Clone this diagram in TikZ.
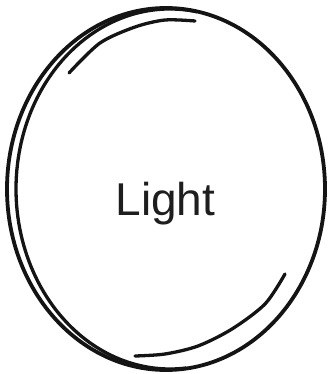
\documentclass[tikz,border=0pt]{standalone}
\usepackage{fontspec}
\newfontfamily\ltsans{Liberation Sans}
\definecolor{ltink}{HTML}{141414}
\definecolor{lttext}{HTML}{1E1E1E}
\tikzset{
  lt outline/.style={draw=ltink, line width=3.8pt},
  lt sketch/.style={draw=ltink, line width=3.3pt, line cap=round},
  lt label/.style={font=\ltsans\fontsize{46}{50}\selectfont, text=lttext, inner sep=0pt}
}

\begin{document}
\begin{tikzpicture}[x=1pt, y=-1pt]
  \useasboundingbox (0,0) rectangle (330,374);
  % main rim
  \draw[lt outline] (166,189) ellipse [x radius=159, y radius=181];
  % second pass of the pen, left side
  \draw[lt sketch] (170,189) ++(80:154 and -180) arc [start angle=80, end angle=276, x radius=154, y radius=-180];
  % short inner strokes
  \draw[lt sketch] plot[smooth] coordinates {(69,73) (100,43) (135,27) (165,20) (195,21)};
  \draw[lt sketch] plot[smooth] coordinates {(285,274) (265,304) (232,329) (198,346) (165,354) (135,356)};
  \node[lt label, anchor=base] (light) at (165.5,215) {Light};
\end{tikzpicture}
\end{document}
